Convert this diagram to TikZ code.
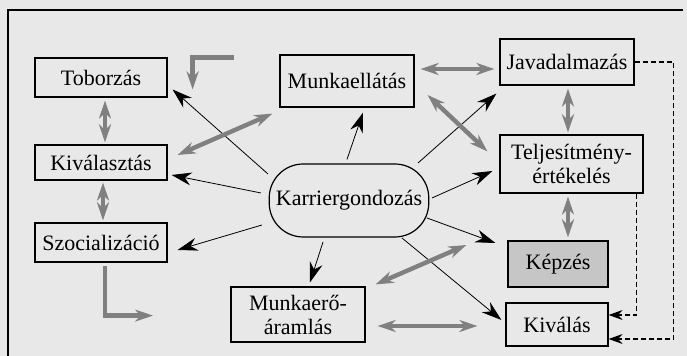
\documentclass[tikz,border=0pt]{standalone}
\usepackage{fontspec}
\setmainfont{Liberation Serif}
\usepackage{tikz}
\usetikzlibrary{positioning, arrows.meta, calc}
\tikzset{
  box/.style    ={draw, rectangle, semithick, align=center, inner sep=1pt,
                  font=\fontsize{11}{12}\selectfont},
  hub/.style    ={draw, rectangle, rounded corners=17pt, semithick,
                  font=\fontsize{11}{12}\selectfont},
  pointer/.style={thin, -{Stealth[length=10pt, width=6.5pt]}},
  twoway/.style ={line width=2.2pt, draw=black!50,
                  {Stealth[length=9pt, width=6pt]}-{Stealth[length=9pt, width=6pt]}},
  oneway/.style ={line width=2.2pt, draw=black!50, -{Stealth[length=9pt, width=6pt]}},
  backlink/.style={semithick, dash pattern=on 2.5pt off 1.5pt,
                  -{Stealth[length=7pt, width=5pt]}}
}

\begin{document}
\begin{tikzpicture}[x=0.5pt, y=-0.5pt]
  \useasboundingbox[fill=black!9] (0,0) rectangle (687,356);
  % frame
  \draw[semithick] (8,356) -- (8,10) -- (683,10);

  \node[box, minimum width=66pt, minimum height=19.5pt] (tob)   at (101,77.5)  {Toborzás};
  \node[box, minimum width=66pt, minimum height=17.5pt] (kival) at (101,162.5) {Kiválasztás};
  \node[box, minimum width=66pt, minimum height=19.5pt] (szoc)  at (101,242.5) {Szocializáció};
  \node[box, minimum width=67pt, minimum height=26pt]   (mell)  at (347,81)    {Munkaellátás};
  \node[box, minimum width=67pt, minimum height=23pt]   (jav)   at (567,62)    {Javadalmazás};
  \node[box, minimum width=71.5pt, minimum height=29pt] (telj)  at (571.5,164) {Teljesítmény-\\értékelés};
  \node[box, fill=gray!45, minimum width=50pt, minimum height=23pt] (kepz) at (558,264) {Képzés};
  \node[box, minimum width=51pt, minimum height=21.5pt] (kivalas) at (557,324.5) {Kiválás};
  \node[box, minimum width=67pt, minimum height=27.5pt] (mea)   at (298,314.5) {Munkaerő-\\áramlás};
  \node[hub, minimum width=78pt, minimum height=36.5pt] (karr)  at (349,200.5) {Karriergondozás};

  % from the hub to the boxes
  \draw[pointer] ($(karr)+(-81,-26.5)$) -- ($(tob.east)+(5,12)$);
  \draw[pointer] ($(karr)+(-88,-7.5)$)  -- ($(kival.east)+(4,12.5)$);
  \draw[pointer] ($(karr)+(-87,24.5)$)  -- ($(szoc.east)+(10,7.5)$);
  \draw[pointer] ($(karr.north)+(-2,-4)$) -- ($(mell.south)+(16,5)$);
  \draw[pointer] ($(karr)+(69,-37.5)$)  -- ($(jav.south west)+(-3,8)$);
  \draw[pointer] ($(karr)+(83,-2.5)$)   -- ($(telj.west)+(-7,7)$);
  \draw[pointer] ($(karr)+(78,17.5)$)   -- ($(kepz.west)+(-12,-21)$);
  \draw[pointer] ($(karr)+(53,37.5)$)   -- ($(kivalas.west)+(-4,-4.5)$);
  \draw[pointer] ($(karr)+(-26,41.5)$)  -- ($(mea.north)+(12,-4)$);

  % two-way links
  \draw[twoway] ($(tob.south)+(4,3)$)     -- ($(kival.north)+(4,-2)$);
  \draw[twoway] ($(kival.east)+(10,-7.5)$) -- ($(mell.south west)+(-7,6)$);
  \draw[twoway] ($(kival.south)+(2,2)$)   -- ($(szoc.north)+(2,-2)$);
  \draw[twoway] ($(mell.east)+(6,-12)$)   -- ($(jav.west)+(-5,7)$);
  \draw[twoway] ($(mell.east)+(13,14)$)   -- ($(telj.north west)+(-12,17)$);
  \draw[twoway] ($(jav.south)+(1,3)$)     -- ($(telj.north)+(-3.5,-2)$);
  \draw[twoway] ($(telj.south)+(-3.5,3)$) -- ($(kepz.north)+(10,-3)$);
  \draw[twoway] ($(mea.north east)+(10,-2)$) -- ($(kepz.west)+(-41,-19)$);
  \draw[twoway] ($(mea.east)+(12,11.5)$)  -- ($(kivalas.west)+(-28,1.5)$);

  % one-way bends
  \draw[oneway] ($(tob.north east)+(66,0)$) -| ($(tob.east)+(25,12)$);
  \draw[oneway] ($(szoc.south)+(4,3)$) |- ($(szoc.south)+(52,53)$);

  % dashed feedback to Kiválás
  \draw[backlink] (jav.east) -- ++(39,0) |- ($(kivalas.east)+(0,14.5)$);
  \draw[backlink] ($(telj.south east)+(-7,0)$) |- ($(kivalas.east)+(0,-9.5)$);
\end{tikzpicture}
\end{document}
